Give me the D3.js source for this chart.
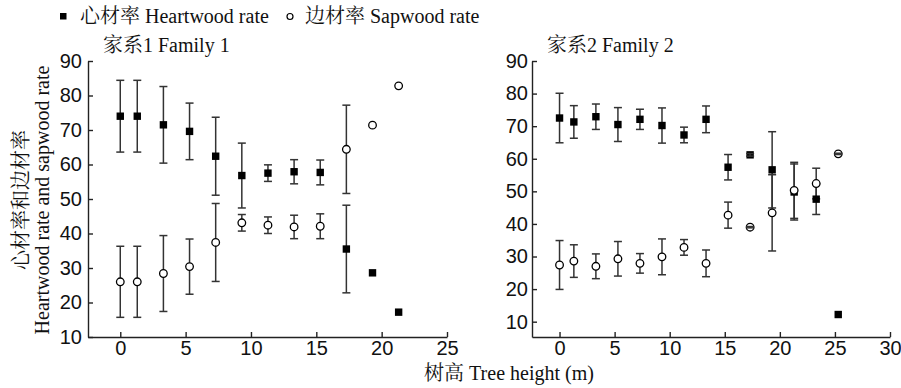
<!DOCTYPE html>
<html>
<head>
<meta charset="utf-8">
<script src="https://cdn.jsdelivr.net/npm/d3@7"></script>
<style>
  body { margin: 0; background: #fff; }
  svg { display: block; font-family: "Liberation Serif", "Times New Roman", "Noto Serif CJK SC", "Noto Sans CJK SC", serif; }
  .axis text { font-size: 20px; fill: #111; font-family: inherit; }
  .axis path, .axis line { stroke: #222; stroke-width: 1.4; }
</style>
</head>
<body>
<svg id="chart" width="901" height="388"></svg>
<script>
// tree heights (m) of the sampled discs
const heights1 = [0, 1.3, 3.3, 5.3, 7.3, 9.3, 11.3, 13.3, 15.3, 17.3, 19.3, 21.3];
const heights2 = [0, 1.3, 3.3, 5.3, 7.3, 9.3, 11.3, 13.3, 15.3, 17.3, 19.3, 21.3, 23.3, 25.3];

// Family 1
const heart1    = [74.0, 74.0, 71.5, 69.6, 62.4, 56.8, 57.5, 57.9, 57.7, 35.5, 28.6, 17.2];
const heart1Err = [10.4, 10.4, 11.1, 8.2, 11.3, 9.4, 2.4, 3.5, 3.6, 12.7, 0, 0];
const sap1      = [26.0, 26.0, 28.4, 30.4, 37.4, 43.1, 42.4, 41.9, 42.1, 64.4, 71.4, 82.8];
const sap1Err   = [10.3, 10.3, 11.0, 8.0, 11.3, 2.4, 2.4, 3.4, 3.6, 12.8, 0, 0];

// Family 2
const heart2    = [72.5, 71.3, 72.9, 70.5, 72.1, 70.2, 67.3, 72.1, 57.4, 61.2, 56.6, 49.8, 47.6, 12.2];
const heart2Err = [7.6, 5.0, 3.9, 5.2, 3.1, 5.4, 2.4, 4.1, 3.9, 0.4, 11.7, 8.6, 4.7, 0];
const sap2      = [27.4, 28.6, 27.0, 29.3, 27.9, 29.9, 32.8, 27.9, 42.7, 39.0, 43.4, 50.3, 52.4, 61.5];
const sap2Err   = [7.5, 5.0, 3.8, 5.3, 3.0, 5.5, 2.4, 4.1, 4.0, 0.2, 11.7, 8.6, 4.7, 0.2];

const xTicks1 = [0, 5, 10, 15, 20, 25];
const xTicks2 = [0, 5, 10, 15, 20, 25, 30];
const yTicks  = [10, 20, 30, 40, 50, 60, 70, 80, 90];

const svg = d3.select('#chart');

const panels = [
  { title: '家系1 Family 1', h: heights1, heart: heart1, heartErr: heart1Err, sap: sap1, sapErr: sap1Err,
    xDom: [-2.47, 25], xRange: [88, 447], yDom: [10, 90], xTicks: xTicks1, pad: 6, titleX: 103 },
  { title: '家系2 Family 2', h: heights2, heart: heart2, heartErr: heart2Err, sap: sap2, sapErr: sap2Err,
    xDom: [-2.5, 30], xRange: [532, 890], yDom: [5.3, 90], xTicks: xTicks2, pad: 4, titleX: 547 },
];

const yTop = 61, yBot = 337;

function errorBars(g, rows, x, y) {
  const eb = g.append('g').attr('stroke', '#333').attr('stroke-width', 1.5).attr('fill', 'none');
  eb.selectAll('line.v').data(rows).join('line').attr('class', 'v')
    .attr('x1', d => x(d.h)).attr('x2', d => x(d.h))
    .attr('y1', d => y(d.v + d.e)).attr('y2', d => y(d.v - d.e));
  [1, -1].forEach(sgn => {
    eb.selectAll('line.c' + sgn).data(rows).join('line').attr('class', 'c' + sgn)
      .attr('x1', d => x(d.h) - 4).attr('x2', d => x(d.h) + 4)
      .attr('y1', d => y(d.v + sgn * d.e)).attr('y2', d => y(d.v + sgn * d.e));
  });
}

panels.forEach(p => {
  const x = d3.scaleLinear().domain(p.xDom).range(p.xRange);
  const y = d3.scaleLinear().domain(p.yDom).range([yBot, yTop]);

  svg.append('g').attr('class', 'axis')
    .attr('transform', `translate(0,${yBot})`)
    .call(d3.axisBottom(x).tickValues(p.xTicks).tickSizeInner(-5).tickSizeOuter(0).tickPadding(4));

  svg.append('g').attr('class', 'axis')
    .attr('transform', `translate(${p.xRange[0]},0)`)
    .call(d3.axisLeft(y).tickValues(yTicks).tickSizeInner(-5).tickSizeOuter(0).tickPadding(p.pad));

  svg.append('text').attr('x', p.titleX).attr('y', 52)
    .attr('font-size', 20).attr('fill', '#111').text(p.title);

  const g = svg.append('g');
  const rows = [];
  p.h.forEach((h, i) => {
    rows.push({ h, v: p.heart[i], e: p.heartErr[i] });
    rows.push({ h, v: p.sap[i], e: p.sapErr[i] });
  });

  // wide error bars sit behind the markers, tiny ones show as a dash on top
  errorBars(g, rows.filter(d => d.e >= 1), x, y);

  const sqRows = p.h.map((h, i) => ({ h, v: p.heart[i] }));
  g.append('g').selectAll('rect').data(sqRows).join('rect')
    .attr('x', d => x(d.h) - 3.7).attr('y', d => y(d.v) - 3.7)
    .attr('width', 7.4).attr('height', 7.4).attr('fill', '#000');

  const ciRows = p.h.map((h, i) => ({ h, v: p.sap[i] }));
  g.append('g').selectAll('circle').data(ciRows).join('circle')
    .attr('cx', d => x(d.h)).attr('cy', d => y(d.v)).attr('r', 3.8)
    .attr('fill', '#fff').attr('stroke', '#000').attr('stroke-width', 1.3);

  errorBars(g, rows.filter(d => d.e > 0 && d.e < 1), x, y);
});

// legend
const leg = svg.append('g');
leg.append('rect').attr('x', 60).attr('y', 13).attr('width', 6.5).attr('height', 6.5).attr('fill', '#000');
leg.append('text').attr('x', 80).attr('y', 23).attr('font-size', 20).attr('fill', '#111').text('心材率 Heartwood rate');
leg.append('circle').attr('cx', 290).attr('cy', 16.5).attr('r', 3).attr('fill', '#fff').attr('stroke', '#000').attr('stroke-width', 1.2);
leg.append('text').attr('x', 305).attr('y', 23).attr('font-size', 20).attr('fill', '#111').text('边材率 Sapwood rate');

// axis titles
svg.append('text').attr('transform', 'translate(28,200) rotate(-90)')
  .attr('text-anchor', 'middle').attr('font-size', 20).attr('fill', '#111').text('心材率和边材率');
svg.append('text').attr('transform', 'translate(49,200) rotate(-90)')
  .attr('text-anchor', 'middle').attr('font-size', 20).attr('fill', '#111').text('Heartwood rate and sapwood rate');
svg.append('text').attr('x', 509).attr('y', 380)
  .attr('text-anchor', 'middle').attr('font-size', 20).attr('fill', '#111').text('树高 Tree height (m)');
</script>
</body>
</html>
